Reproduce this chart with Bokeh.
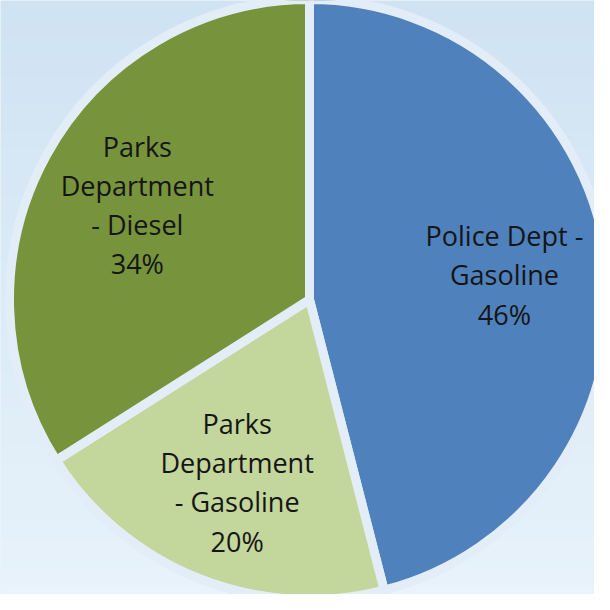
import numpy as np
from bokeh.plotting import figure
from bokeh.models import Range1d, ColumnDataSource
from bokeh.core.properties import value
from bokeh.embed import file_html
from bokeh.resources import INLINE

# ---- data ----
categories = ["Police Dept -\nGasoline", "Parks\nDepartment\n- Gasoline", "Parks\nDepartment\n- Diesel"]
shares = [46, 20, 34]
colors = ["#4f81bd", "#c3d69b", "#77933c"]

# ---- geometry (pie of radius 1 centred at 0,0) ----
W = H = 594
x0, x1 = -1.03, 0.95
y0, y1 = -0.983, 0.997

frac = np.array(shares, dtype=float) / sum(shares)
cum = np.concatenate([[0], np.cumsum(frac)])
start = np.pi / 2 - 2 * np.pi * cum[:-1]
end = np.pi / 2 - 2 * np.pi * cum[1:]
mid = (start + end) / 2
lab_r = 0.655
labels = [f"{c}\n{s}%" for c, s in zip(categories, shares)]

src = ColumnDataSource(dict(start=start, end=end, color=colors,
                            lx=lab_r * np.cos(mid), ly=lab_r * np.sin(mid),
                            label=labels))

p = figure(width=W, height=H, x_range=Range1d(x0, x1), y_range=Range1d(y0, y1),
           output_backend="svg", toolbar_location=None, min_border=0)
p.axis.visible = False
p.grid.visible = False
p.outline_line_color = None

# background gradient (top bluish, bottom paler)
n = 64
t = np.linspace(0, 1, n)[:, None]  # row 0 = bottom
top = np.array([208, 227, 243])
bot = np.array([232, 243, 251])
rgb = (bot + (top - bot) * t).astype(np.uint32)
img = np.empty((n, 1), dtype=np.uint32)
view = img.view(dtype=np.uint8).reshape((n, 1, 4))
view[:, :, 0] = rgb[:, 0:1]
view[:, :, 1] = rgb[:, 1:2]
view[:, :, 2] = rgb[:, 2:3]
view[:, :, 3] = 255
p.image_rgba(image=[img], x=x0, y=y0, dw=x1 - x0, dh=y1 - y0)
p.background_fill_color = "#dceaf6"
p.border_fill_color = "#dceaf6"

p.wedge(x=0, y=0, radius=1.0, start_angle="start", end_angle="end",
        direction="clock", fill_color="color", line_color="#e2edf7",
        line_width=9, source=src)

p.text(x="lx", y="ly", text="label", source=src, text_align="center",
       text_baseline="middle", text_font=value("Open Sans"),
       text_font_size="27px", text_line_height=1.06, text_color="#151515")

open("out.html", "w").write(file_html(p, INLINE))
